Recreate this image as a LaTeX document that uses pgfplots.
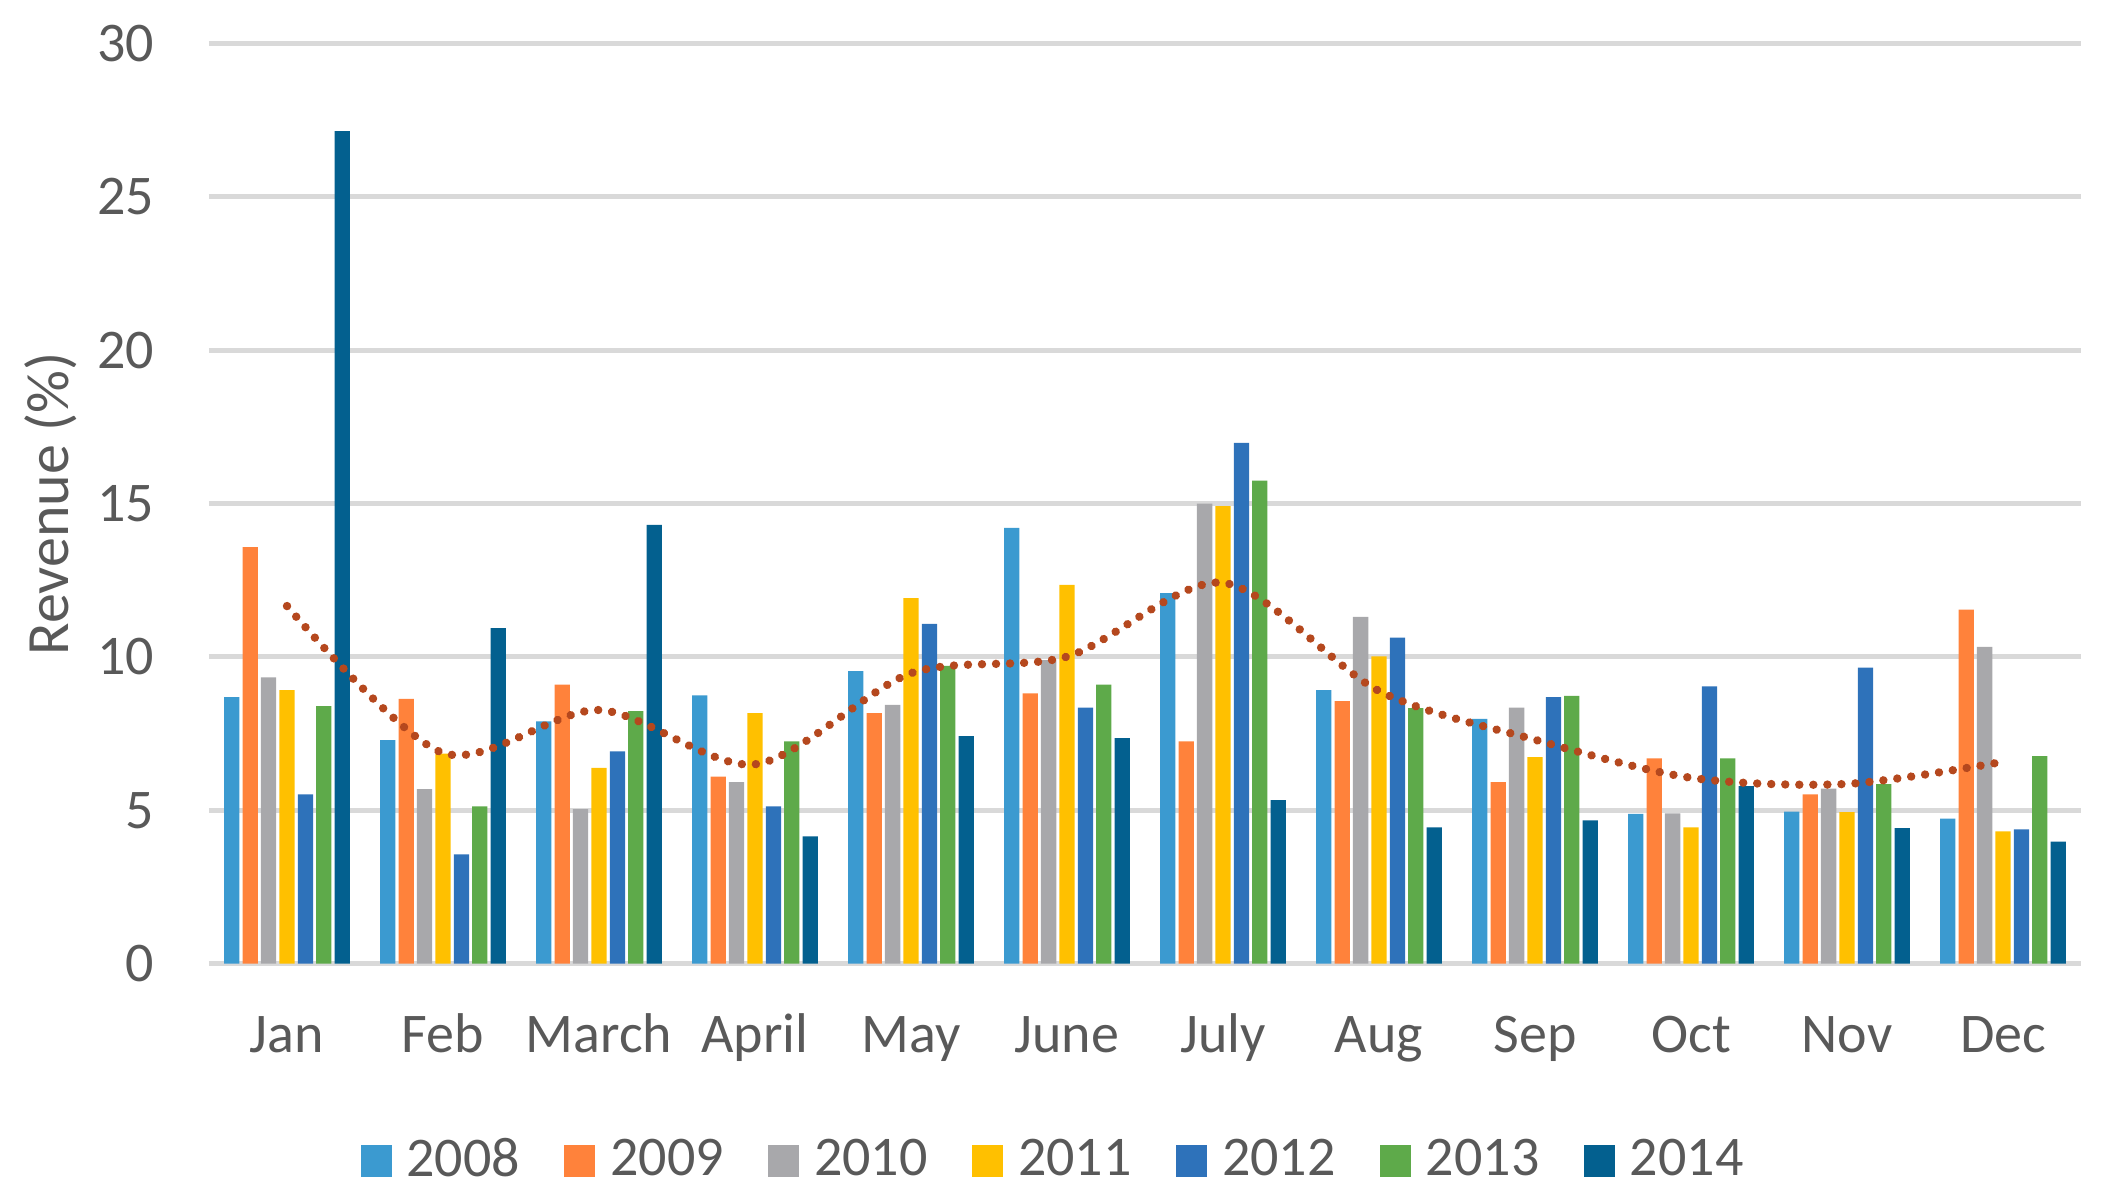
\documentclass[border=0pt]{standalone}
\usepackage{fontspec}
\setmainfont{Carlito}
\usepackage{pgfplots}
\usepackage{pgfplotstable}
\pgfplotsset{compat=1.18}
\definecolor{c08}{HTML}{3B9AD0}
\definecolor{c09}{HTML}{FF823B}
\definecolor{c10}{HTML}{A8A8AB}
\definecolor{c11}{HTML}{FFC000}
\definecolor{c12}{HTML}{2E72BA}
\definecolor{c13}{HTML}{5EAA4A}
\definecolor{c14}{HTML}{03608F}
\definecolor{trend}{HTML}{B5481E}
\definecolor{gridc}{HTML}{D9D9D9}
\definecolor{textc}{HTML}{595959}
\pgfplotstableread{
x a b c d e f g avg
0 8.69 13.58 9.33 8.92 5.52 8.40 27.15 11.66
1 7.29 8.63 5.69 6.85 3.56 5.13 10.94 6.87
2 7.90 9.10 5.04 6.38 6.92 8.23 14.31 8.27
3 8.75 6.10 5.92 8.17 5.13 7.25 4.15 6.50
4 9.54 8.17 8.44 11.92 11.08 9.71 7.42 9.47
5 14.21 8.81 9.90 12.35 8.35 9.10 7.35 10.01
6 12.08 7.25 15.00 14.92 16.98 15.75 5.33 12.42
7 8.92 8.56 11.31 10.02 10.63 8.33 4.44 8.89
8 7.98 5.92 8.35 6.73 8.69 8.73 4.67 7.30
9 4.88 6.69 4.90 4.44 9.04 6.69 5.79 6.06
10 4.96 5.52 5.71 4.94 9.65 5.85 4.42 5.86
11 4.73 11.54 10.33 4.31 4.38 6.77 3.98 6.58
}\data
\begin{document}
\begin{tikzpicture}
\useasboundingbox (-52.25pt,-59.6pt) rectangle (474pt,240.9pt);
\begin{axis}[
  at={(0pt,0pt)}, anchor=south west,
  width=468pt, height=230pt, scale only axis,
  xmin=-0.5, xmax=11.5, ymin=0, ymax=30,
  xtick={0,...,11},
  xticklabels={Jan,Feb,March,April,May,June,July,Aug,Sep,Oct,Nov,Dec},
  ytick={0,5,...,30},
  ymajorgrids, grid style={draw=gridc, line width=1.25pt},
  axis line style={draw=none},
  major tick length=0pt,
  tick label style={font=\fontsize{14}{16}\selectfont, text=textc},
  xticklabel style={anchor=base, yshift=-22.3pt},
  yticklabel style={anchor=east, inner xsep=0pt, xshift=-13.5pt},
  /pgf/number format/assume math mode=true,
  ylabel={Revenue (\%)},
  ylabel style={at={(axis description cs:-0.0847,0.5)}, anchor=center, font=\fontsize{15}{18}\selectfont, text=textc},
  legend columns=7,
  legend style={at={(axis description cs:0.4503,-0.2141)}, anchor=center, draw=none, fill=none,
    font=\fontsize{14}{16}\selectfont, text=textc, nodes={inner sep=0pt},
    /tikz/every odd column/.append style={column sep=3.7pt},
    /tikz/every even column/.append style={column sep=11.15pt}},
  legend image code/.code={\fill[#1] (0pt,-4pt) rectangle (7.75pt,4pt);},
]
\addplot[ybar, bar width=3.82pt, bar shift=-13.8pt, fill=c08, draw=none] table[x=x,y=a]{\data};
\addlegendentry{2008}
\addplot[ybar, bar width=3.82pt, bar shift=-9.2pt, fill=c09, draw=none] table[x=x,y=b]{\data};
\addlegendentry{2009}
\addplot[ybar, bar width=3.82pt, bar shift=-4.6pt, fill=c10, draw=none] table[x=x,y=c]{\data};
\addlegendentry{2010}
\addplot[ybar, bar width=3.82pt, bar shift=0pt, fill=c11, draw=none] table[x=x,y=d]{\data};
\addlegendentry{2011}
\addplot[ybar, bar width=3.82pt, bar shift=4.6pt, fill=c12, draw=none] table[x=x,y=e]{\data};
\addlegendentry{2012}
\addplot[ybar, bar width=3.82pt, bar shift=9.2pt, fill=c13, draw=none] table[x=x,y=f]{\data};
\addlegendentry{2013}
\addplot[ybar, bar width=3.82pt, bar shift=13.8pt, fill=c14, draw=none] table[x=x,y=g]{\data};
\addlegendentry{2014}
\addplot[forget plot, smooth, tension=0.5, color=trend, line width=2.1pt, line cap=round, dash pattern=on 0.01pt off 3.5pt] table[x=x,y=avg]{\data};
\end{axis}
\end{tikzpicture}
\end{document}
